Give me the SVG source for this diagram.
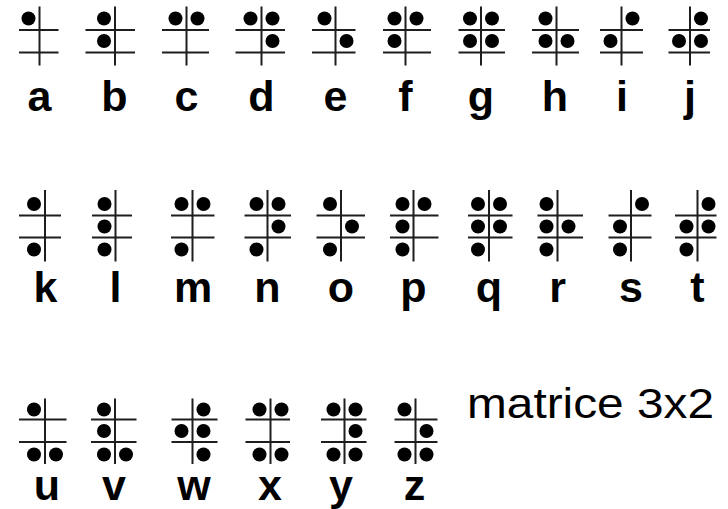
<svg xmlns="http://www.w3.org/2000/svg" width="728" height="509" viewBox="0 0 728 509">
<style>
.ln{stroke:#1e1e1e;stroke-width:2;fill:none}
.d{fill:#000}
.lbl{font-family:"Liberation Sans",Arial,sans-serif;font-weight:bold;font-size:43px;text-anchor:middle;fill:#000}
.cap{font-family:"Liberation Sans",Arial,sans-serif;font-size:42px;fill:#000}
</style>
<rect width="728" height="509" fill="#fff"/>
<g id="connectors"/>
<!-- Row 1 -->
<g id="cell-a">
<path class="ln" d="M39.5 6.5V65.5M19 30H58.5M19 52.5H58.5"/>
<circle class="d" cx="28.5" cy="18.5" r="7"/>
<text class="lbl" x="39.5" y="110.5">a</text>
</g>
<g id="cell-b">
<path class="ln" d="M115 6.5V65.5M85.5 30H135M85.5 52.5H135"/>
<circle class="d" cx="104" cy="18.5" r="7"/><circle class="d" cx="104" cy="41" r="7"/>
<text class="lbl" x="114.5" y="110.5">b</text>
</g>
<g id="cell-c">
<path class="ln" d="M186.5 6.5V65.5M162 30H209M162 52.5H209"/>
<circle class="d" cx="175.5" cy="18.5" r="7"/><circle class="d" cx="197.5" cy="18.5" r="7"/>
<text class="lbl" x="186.5" y="110.5">c</text>
</g>
<g id="cell-d">
<path class="ln" d="M261.5 6.5V65.5M235.5 30H285M235.5 52.5H285"/>
<circle class="d" cx="250.5" cy="18.5" r="7"/><circle class="d" cx="272.5" cy="18.5" r="7"/><circle class="d" cx="272.5" cy="41" r="7"/>
<text class="lbl" x="261.5" y="110.5">d</text>
</g>
<g id="cell-e">
<path class="ln" d="M335.5 6.5V65.5M312 30H355.5M312 52.5H355.5"/>
<circle class="d" cx="324.5" cy="18.5" r="7"/><circle class="d" cx="346.5" cy="41" r="7"/>
<text class="lbl" x="335.5" y="110.5">e</text>
</g>
<g id="cell-f">
<path class="ln" d="M405.5 6.5V65.5M383 30H431M383 52.5H431"/>
<circle class="d" cx="394.5" cy="18.5" r="7"/><circle class="d" cx="394.5" cy="41" r="7"/><circle class="d" cx="416.5" cy="18.5" r="7"/>
<text class="lbl" x="405.5" y="110.5">f</text>
</g>
<g id="cell-g">
<path class="ln" d="M481 6.5V65.5M458.5 30H505M458.5 52.5H505"/>
<circle class="d" cx="470" cy="18.5" r="7"/><circle class="d" cx="470" cy="41" r="7"/><circle class="d" cx="492" cy="18.5" r="7"/><circle class="d" cx="492" cy="41" r="7"/>
<text class="lbl" x="481" y="110.5">g</text>
</g>
<g id="cell-h">
<path class="ln" d="M556.5 6.5V65.5M532 30H579M532 52.5H579"/>
<circle class="d" cx="545.5" cy="18.5" r="7"/><circle class="d" cx="545.5" cy="41" r="7"/><circle class="d" cx="567.5" cy="41" r="7"/>
<text class="lbl" x="555" y="110.5">h</text>
</g>
<g id="cell-i">
<path class="ln" d="M621.5 6.5V65.5M600 30H643M600 52.5H643"/>
<circle class="d" cx="610.5" cy="41" r="7"/><circle class="d" cx="632.5" cy="18.5" r="7"/>
<text class="lbl" x="622" y="110.5">i</text>
</g>
<g id="cell-j">
<path class="ln" d="M690 6.5V65.5M668.5 30H710M668.5 52.5H710"/>
<circle class="d" cx="679" cy="41" r="7"/><circle class="d" cx="701" cy="18.5" r="7"/><circle class="d" cx="701" cy="41" r="7"/>
<text class="lbl" x="690" y="110.5">j</text>
</g>
<!-- Row 2 -->
<g id="cell-k">
<path class="ln" d="M45 190V261.5M19 215.5H61M19 237.5H61"/>
<circle class="d" cx="34" cy="204" r="7"/><circle class="d" cx="34" cy="249.5" r="7"/>
<text class="lbl" x="45.5" y="302">k</text>
</g>
<g id="cell-l">
<path class="ln" d="M115.5 190V261.5M92 215.5H132M92 237.5H132"/>
<circle class="d" cx="104.5" cy="204" r="7"/><circle class="d" cx="104.5" cy="226.5" r="7"/><circle class="d" cx="104.5" cy="249.5" r="7"/>
<text class="lbl" x="115.5" y="302">l</text>
</g>
<g id="cell-m">
<path class="ln" d="M192.5 190V261.5M171 215.5H214.5M171 237.5H214.5"/>
<circle class="d" cx="181.5" cy="204" r="7"/><circle class="d" cx="181.5" cy="249.5" r="7"/><circle class="d" cx="203.5" cy="204" r="7"/>
<text class="lbl" x="193" y="302">m</text>
</g>
<g id="cell-n">
<path class="ln" d="M267.5 190V261.5M244.5 215.5H291M244.5 237.5H291"/>
<circle class="d" cx="256.5" cy="204" r="7"/><circle class="d" cx="256.5" cy="249.5" r="7"/><circle class="d" cx="278.5" cy="204" r="7"/><circle class="d" cx="278.5" cy="226.5" r="7"/>
<text class="lbl" x="267.5" y="302">n</text>
</g>
<g id="cell-o">
<path class="ln" d="M341 190V261.5M316.5 215.5H365M316.5 237.5H365"/>
<circle class="d" cx="330" cy="204" r="7"/><circle class="d" cx="330" cy="249.5" r="7"/><circle class="d" cx="352" cy="226.5" r="7"/>
<text class="lbl" x="341" y="302">o</text>
</g>
<g id="cell-p">
<path class="ln" d="M413.5 190V261.5M390 215.5H438.5M390 237.5H438.5"/>
<circle class="d" cx="402.5" cy="204" r="7"/><circle class="d" cx="402.5" cy="226.5" r="7"/><circle class="d" cx="402.5" cy="249.5" r="7"/><circle class="d" cx="424.5" cy="204" r="7"/>
<text class="lbl" x="413.5" y="302">p</text>
</g>
<g id="cell-q">
<path class="ln" d="M489 190V261.5M468 215.5H512.5M468 237.5H512.5"/>
<circle class="d" cx="478" cy="204" r="7"/><circle class="d" cx="478" cy="226.5" r="7"/><circle class="d" cx="478" cy="249.5" r="7"/><circle class="d" cx="500" cy="204" r="7"/><circle class="d" cx="500" cy="226.5" r="7"/>
<text class="lbl" x="489" y="302">q</text>
</g>
<g id="cell-r">
<path class="ln" d="M557.5 190V261.5M537.5 215.5H583M537.5 237.5H583"/>
<circle class="d" cx="546.5" cy="204" r="7"/><circle class="d" cx="546.5" cy="226.5" r="7"/><circle class="d" cx="546.5" cy="249.5" r="7"/><circle class="d" cx="568.5" cy="226.5" r="7"/>
<text class="lbl" x="557.5" y="302">r</text>
</g>
<g id="cell-s">
<path class="ln" d="M631 190V261.5M608.5 215.5H651.5M608.5 237.5H651.5"/>
<circle class="d" cx="620" cy="226.5" r="7"/><circle class="d" cx="620" cy="249.5" r="7"/><circle class="d" cx="642" cy="204" r="7"/>
<text class="lbl" x="631" y="302">s</text>
</g>
<g id="cell-t">
<path class="ln" d="M697.5 190V261.5M675 215.5H716.5M675 237.5H716.5"/>
<circle class="d" cx="686.5" cy="226.5" r="7"/><circle class="d" cx="686.5" cy="249.5" r="7"/><circle class="d" cx="708.5" cy="204" r="7"/><circle class="d" cx="708.5" cy="226.5" r="7"/>
<text class="lbl" x="697.5" y="302">t</text>
</g>
<!-- Row 3 -->
<g id="cell-u">
<path class="ln" d="M45 398.5V464M19 419.5H66.5M19 442H66.5"/>
<circle class="d" cx="34" cy="409.5" r="7"/><circle class="d" cx="34" cy="454.5" r="7"/><circle class="d" cx="56" cy="454.5" r="7"/>
<text class="lbl" x="47" y="500">u</text>
</g>
<g id="cell-v">
<path class="ln" d="M115 398.5V464M91 419.5H136.5M91 442H136.5"/>
<circle class="d" cx="104" cy="409.5" r="7"/><circle class="d" cx="104" cy="431" r="7"/><circle class="d" cx="104" cy="454.5" r="7"/><circle class="d" cx="126" cy="454.5" r="7"/>
<text class="lbl" x="114" y="500">v</text>
</g>
<g id="cell-w">
<path class="ln" d="M192.5 398.5V464M171.5 419.5H217.5M171.5 442H217.5"/>
<circle class="d" cx="181.5" cy="431" r="7"/><circle class="d" cx="203.5" cy="409.5" r="7"/><circle class="d" cx="203.5" cy="431" r="7"/><circle class="d" cx="203.5" cy="454.5" r="7"/>
<text class="lbl" x="194" y="500">w</text>
</g>
<g id="cell-x">
<path class="ln" d="M270.5 398.5V464M245.5 419.5H290M245.5 442H290"/>
<circle class="d" cx="259.5" cy="409.5" r="7"/><circle class="d" cx="259.5" cy="454.5" r="7"/><circle class="d" cx="281.5" cy="409.5" r="7"/><circle class="d" cx="281.5" cy="454.5" r="7"/>
<text class="lbl" x="270" y="500">x</text>
</g>
<g id="cell-y">
<path class="ln" d="M344.5 398.5V464M321 419.5H366.5M321 442H366.5"/>
<circle class="d" cx="333.5" cy="409.5" r="7"/><circle class="d" cx="333.5" cy="454.5" r="7"/><circle class="d" cx="355.5" cy="409.5" r="7"/><circle class="d" cx="355.5" cy="431" r="7"/><circle class="d" cx="355.5" cy="454.5" r="7"/>
<text class="lbl" x="341" y="500">y</text>
</g>
<g id="cell-z">
<path class="ln" d="M415.5 398.5V464M394.5 419.5H437.5M394.5 442H437.5"/>
<circle class="d" cx="404.5" cy="409.5" r="7"/><circle class="d" cx="404.5" cy="454.5" r="7"/><circle class="d" cx="426.5" cy="431" r="7"/><circle class="d" cx="426.5" cy="454.5" r="7"/>
<text class="lbl" x="414.5" y="500">z</text>
</g>
<g id="caption">
<text class="cap" x="467" y="417.5" textLength="247" lengthAdjust="spacingAndGlyphs">matrice 3x2</text>
</g>
</svg>
